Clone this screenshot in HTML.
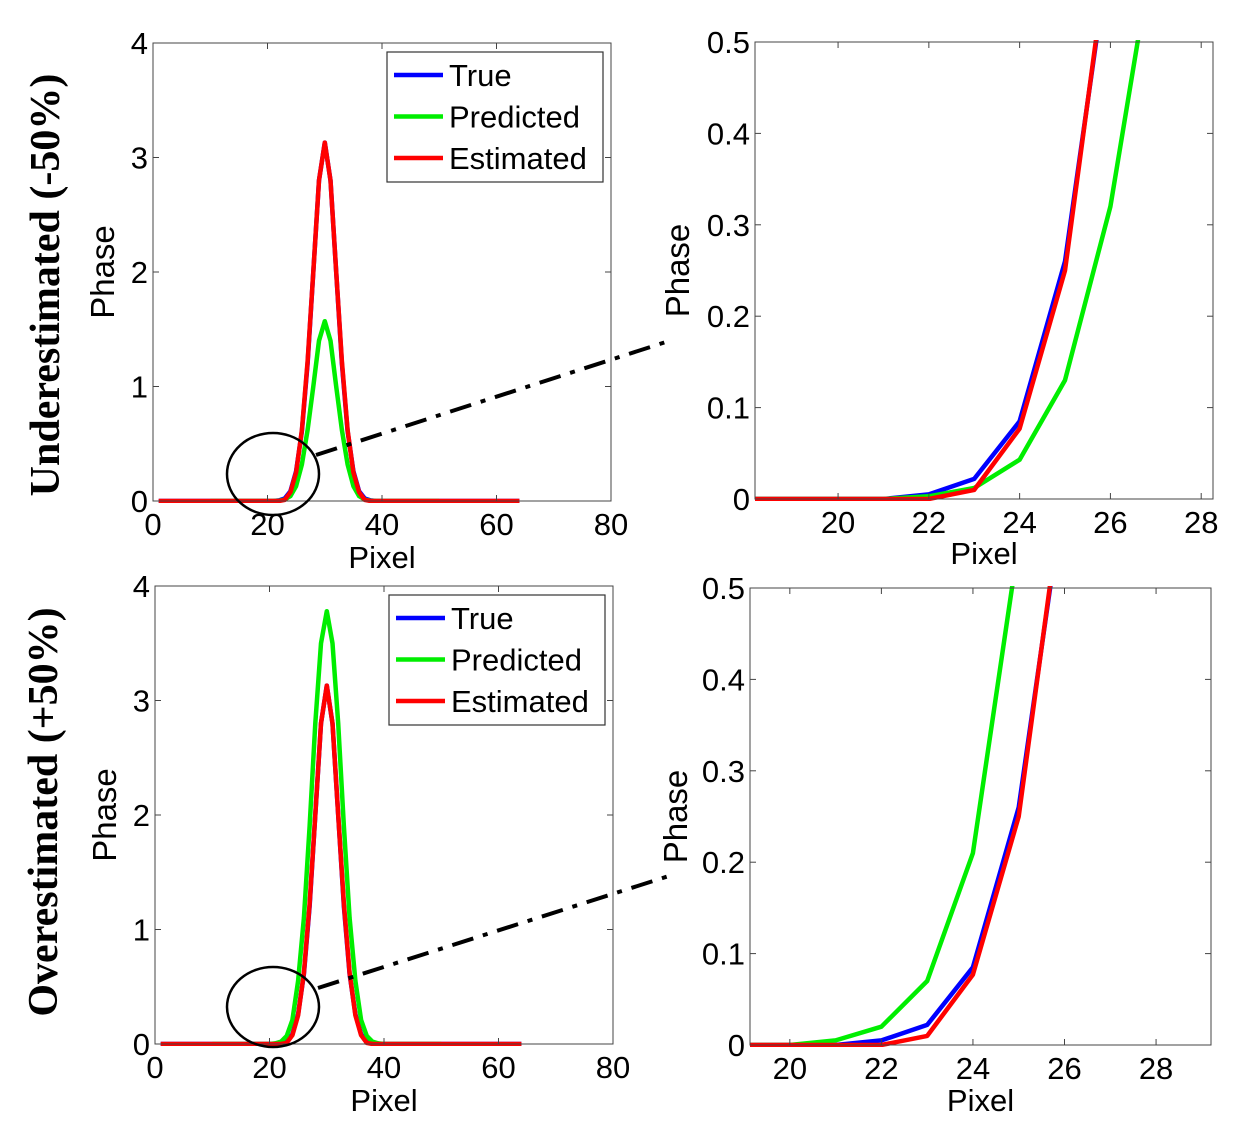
<!DOCTYPE html>
<html><head><meta charset="utf-8"><style>
html,body{margin:0;padding:0;background:#fff;}
svg{display:block;font-family:"Liberation Sans",Arial,sans-serif;}
</style></head><body>
<svg id="fig" width="1235" height="1125" viewBox="0 0 1235 1125" xmlns="http://www.w3.org/2000/svg">
<text transform="translate(59,285) rotate(-90)" text-anchor="middle" font-family="'Liberation Serif',serif" font-weight="bold" font-size="42">Underestimated (-50%)</text>
<text transform="translate(57,812) rotate(-90)" text-anchor="middle" font-family="'Liberation Serif',serif" font-weight="bold" font-size="42">Overestimated (+50%)</text>
</svg>
<script>
// ---- data ----
const trueX = [1,20,21,22,23,24,25,26,27,28,29,30,31,32,33,34,35,36,37,38,39,40,64];
const trueY = [0,0,0,0.005,0.022,0.085,0.26,0.61,1.2,2.0,2.8,3.13,2.8,2.0,1.2,0.61,0.26,0.085,0.022,0.005,0,0,0];
const predUnderX = [10,20,21,22,23,24,25,26,27,28,29,30,31,32,33,34,35,36,37,38,39,40,50];
const predUnderY = [0,0,0,0.003,0.012,0.043,0.13,0.32,0.62,1.0,1.4,1.57,1.4,1.0,0.62,0.32,0.13,0.043,0.012,0.003,0,0,0];
const estUnderX = [1,20,21,22,23,24,25,26,27,28,29,30,31,32,33,34,35,36,37,38,39,40,64];
const estUnderY = [0,0,0,0,0.01,0.077,0.25,0.62,1.22,2.0,2.8,3.13,2.8,2.0,1.22,0.62,0.25,0.077,0.01,0,0,0,0];
const predOverX = [10,19,20,21,22,23,24,25,26,27,28,29,30,31,32,33,34,35,36,37,38,39,40,50];
const predOverY = [0,0,0,0.005,0.02,0.07,0.21,0.55,1.1,1.9,2.8,3.5,3.78,3.5,2.8,1.9,1.1,0.55,0.21,0.07,0.02,0.005,0,0];
const estOverX = estUnderX;
const estOverY = estUnderY;
const legendLabels = ["True","Predicted","Estimated"];
const colors = ["#0000ff","#00ee00","#ff0000"];
const mainXTicks = [0,20,40,60,80];
const mainYTicks = [0,1,2,3,4];
const zoomXTicks = [20,22,24,26,28];
const zoomYTicks = [0,0.1,0.2,0.3,0.4,0.5];

const NS="http://www.w3.org/2000/svg";
const svg=document.getElementById('fig');
function mk(tag,attrs,parent){const e=document.createElementNS(NS,tag);for(const k in attrs)e.setAttribute(k,attrs[k]);(parent||svg).appendChild(e);return e;}

function axes(name,b,xlim,ylim,xt,yt,series,legend,ylabX,xlabY){
  const g=mk('g',{});
  
  
  const sx=v=>b.x0+(v-xlim[0])/(xlim[1]-xlim[0])*(b.x1-b.x0);
  const sy=v=>b.y1-(v-ylim[0])/(ylim[1]-ylim[0])*(b.y1-b.y0);
  const clip='c'+name;
  const cp=mk('clipPath',{id:clip},g);mk('rect',{x:b.x0,y:b.y0-2,width:b.x1-b.x0,height:b.y1-b.y0+4},cp);
  series.forEach((s,i)=>{
    const pts=s.x.map((xv,j)=>sx(xv).toFixed(1)+','+sy(s.y[j]).toFixed(1)).join(' ');
    const p=mk('polyline',{points:pts,fill:'none',stroke:s.c,'stroke-width':4.5,'stroke-linejoin':'round','clip-path':'url(#'+clip+')'},g);
    
    
  });
  const frame=mk('rect',{x:b.x0,y:b.y0,width:b.x1-b.x0,height:b.y1-b.y0,fill:'none',stroke:'#444','stroke-width':1},g);
  
  
  xt.forEach(v=>{const x=sx(v);
    mk('line',{x1:x,x2:x,y1:b.y1,y2:b.y1-6,stroke:'#444'},g);
    mk('line',{x1:x,x2:x,y1:b.y0,y2:b.y0+6,stroke:'#444'},g);
    const t=mk('text',{x:x,y:b.y1+34,'text-anchor':'middle','font-size':31},g);t.textContent=String(v);
    
    
  });
  yt.forEach(v=>{const y=sy(v);
    mk('line',{x1:b.x0,x2:b.x0+6,y1:y,y2:y,stroke:'#444'},g);
    mk('line',{x1:b.x1,x2:b.x1-6,y1:y,y2:y,stroke:'#444'},g);
    const t=mk('text',{x:b.x0-5,y:y+11,'text-anchor':'end','font-size':31},g);t.textContent=String(v);
    
    
  });
  const xl=mk('text',{x:(b.x0+b.x1)/2,y:xlabY,'text-anchor':'middle','font-size':31},g);xl.textContent='Pixel';
  
  
  const yl=mk('text',{transform:'translate('+ylabX+','+((b.y0+b.y1)/2)+') rotate(-90)','text-anchor':'middle','font-size':33},g);yl.textContent='Phase';
  
  
  if(legend){
    const lg=mk('g',{},g);
    
    
    mk('rect',{x:legend.x,y:legend.y,width:216,height:130,fill:'#fff',stroke:'#333','stroke-width':1.2},lg);
    legendLabels.forEach((l,i)=>{
      const yy=legend.y+23+i*41.5;
      const e=mk('g',{},lg);
      
      
      mk('line',{x1:legend.x+7,x2:legend.x+56,y1:yy,y2:yy,stroke:colors[i],'stroke-width':4.5},e);
      const t=mk('text',{x:legend.x+62,y:yy+11,'font-size':31},e);t.textContent=l;
    });
  }
}

axes('top-left-plot',{x0:153,y0:43,x1:611,y1:501},[0,80],[0,4],mainXTicks,mainYTicks,
 [{n:'true',x:trueX,y:trueY,c:colors[0]},{n:'predicted',x:predUnderX,y:predUnderY,c:colors[1]},{n:'estimated',x:estUnderX,y:estUnderY,c:colors[2]}],
 {x:387,y:52},114,568);
axes('top-right-plot',{x0:755,y0:42,x1:1213,y1:499},[18.17,28.26],[0,0.5],zoomXTicks,zoomYTicks,
 [{n:'true',x:trueX,y:trueY,c:colors[0]},{n:'predicted',x:predUnderX,y:predUnderY,c:colors[1]},{n:'estimated',x:estUnderX,y:estUnderY,c:colors[2]}],
 null,689,564);
axes('bottom-left-plot',{x0:155,y0:586,x1:613,y1:1044},[0,80],[0,4],mainXTicks,mainYTicks,
 [{n:'true',x:trueX,y:trueY,c:colors[0]},{n:'predicted',x:predOverX,y:predOverY,c:colors[1]},{n:'estimated',x:estOverX,y:estOverY,c:colors[2]}],
 {x:389,y:595},116,1111);
axes('bottom-right-plot',{x0:750,y0:588,x1:1211,y1:1045},[19.13,29.2],[0,0.5],zoomXTicks,zoomYTicks,
 [{n:'true',x:trueX,y:trueY,c:colors[0]},{n:'predicted',x:predOverX,y:predOverY,c:colors[1]},{n:'estimated',x:estOverX,y:estOverY,c:colors[2]}],
 null,687,1111);

const e1=mk('ellipse',{cx:273,cy:474,rx:46,ry:41,fill:'none',stroke:'#000','stroke-width':2.5});


const l1=mk('line',{x1:316,y1:455,x2:672,y2:340,stroke:'#000','stroke-width':4,'stroke-dasharray':'22,10,5,10'});


const e2=mk('ellipse',{cx:273,cy:1007,rx:46,ry:40,fill:'none',stroke:'#000','stroke-width':2.5});


const l2=mk('line',{x1:318,y1:988,x2:672,y2:875,stroke:'#000','stroke-width':4,'stroke-dasharray':'22,10,5,10'});


</script>
</body></html>
